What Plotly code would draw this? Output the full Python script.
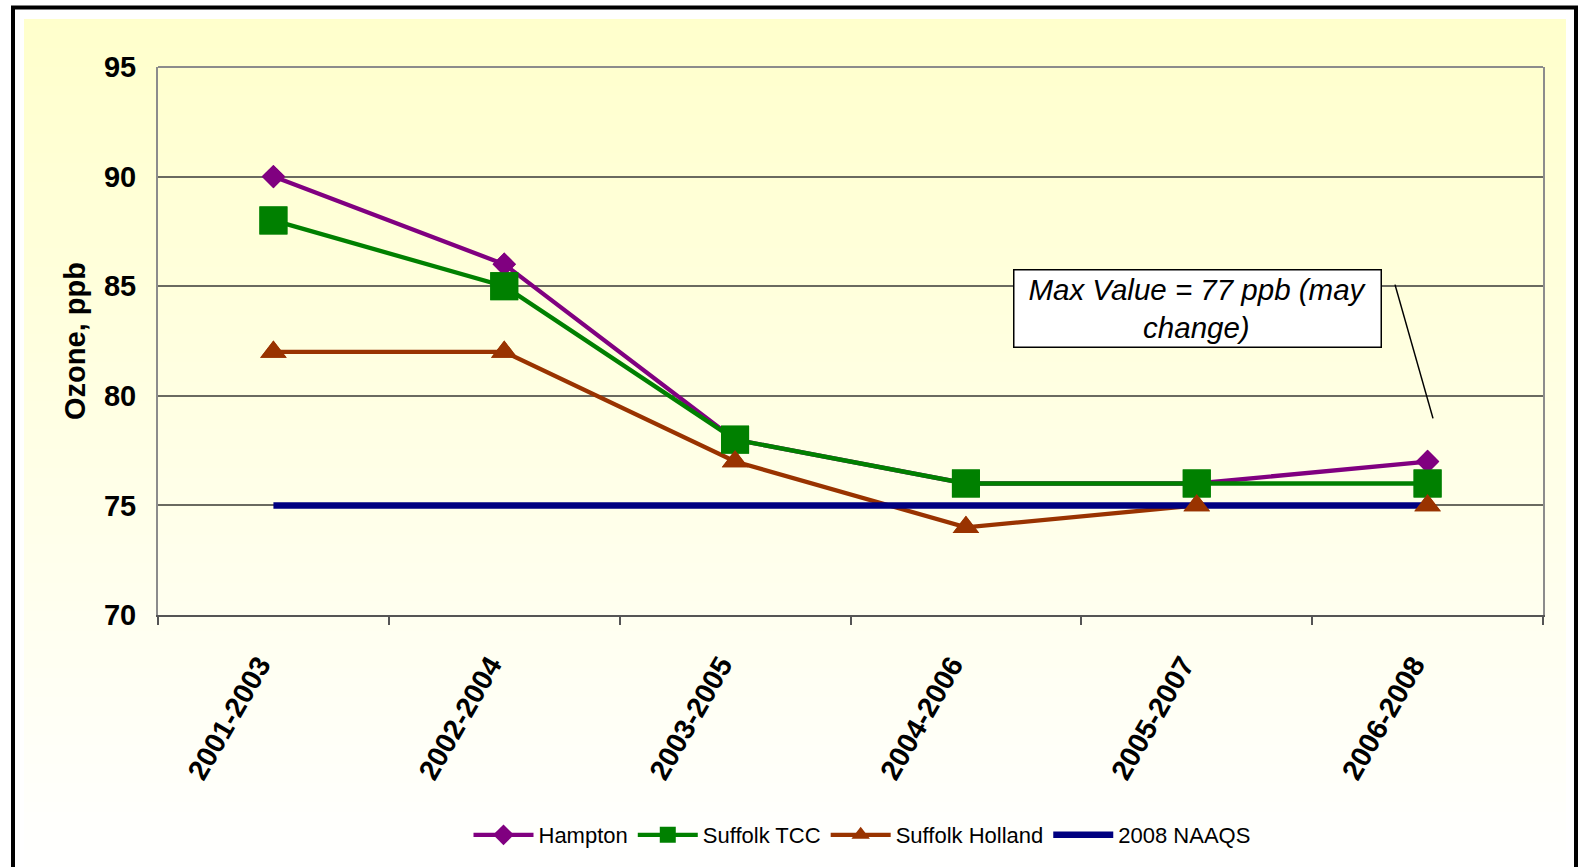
import plotly.graph_objects as go

# ---- data ----
periods = ["2001-2003", "2002-2004", "2003-2005", "2004-2006", "2005-2007", "2006-2008"]
hampton = [90, 86, 78, 76, 76, 77]
suffolk_tcc = [88, 85, 78, 76, 76, 76]
suffolk_holland = [82, 82, 77, 74, 75, 75]
naaqs = [75, 75, 75, 75, 75, 75]
y_ticks = [70, 75, 80, 85, 90, 95]

# ---- layout geometry (pixels) ----
W, H = 1578, 867
L, R, T, B = 158, 35, 67, 251
PW, PH = W - L - R, H - T - B


def px(x):
    return (x - L) / PW


def py(y):
    return (H - B - y) / PH


FONT = "Liberation Sans, Arial, sans-serif"
C_H, C_T, C_S, C_N = "#800080", "#008000", "#993300", "#000080"
LW = 4.3
SZ_D, SZ_S, SZ_T = 18, 28, 23

fig = go.Figure()
fig.add_trace(go.Scatter(x=periods, y=hampton, name="Hampton", mode="lines+markers",
                         line=dict(color=C_H, width=LW),
                         marker=dict(symbol="diamond", size=SZ_D, color=C_H)))
fig.add_trace(go.Scatter(x=periods, y=suffolk_tcc, name="Suffolk TCC", mode="lines+markers",
                         line=dict(color=C_T, width=LW),
                         marker=dict(symbol="square", size=SZ_S, color=C_T)))
fig.add_trace(go.Scatter(x=periods, y=suffolk_holland, name="Suffolk Holland", mode="lines+markers",
                         line=dict(color=C_S, width=LW),
                         marker=dict(symbol="triangle-up", size=SZ_T, color=C_S)))
fig.add_trace(go.Scatter(x=periods, y=naaqs, name="2008 NAAQS", mode="lines",
                         line=dict(color=C_N, width=6.5)))
# markers drawn over all lines (as in the original)
for ys, c, sym, sz in [(hampton, C_H, "diamond", SZ_D), (suffolk_tcc, C_T, "square", SZ_S),
                       (suffolk_holland, C_S, "triangle-up", SZ_T)]:
    fig.add_trace(go.Scatter(x=periods, y=ys, mode="markers", showlegend=False, hoverinfo="skip",
                             marker=dict(symbol=sym, size=sz, color=c)))

shapes = []
# background gradient (pale yellow -> white)
y_top, y_bot = 19, 880
n = 90
for i in range(n):
    t = i / (n - 1)
    b = round(204 + (255 - 204) * t)
    y0 = y_top + (y_bot - y_top) * i / n
    y1 = y_top + (y_bot - y_top) * (i + 1) / n + 1
    shapes.append(dict(type="rect", xref="paper", yref="paper", layer="below",
                       x0=px(24), x1=px(1566), y0=py(y1), y1=py(y0),
                       line=dict(width=0), fillcolor=f"rgb(255,255,{b})"))
# outer black frame
shapes.append(dict(type="rect", xref="paper", yref="paper", layer="above",
                   x0=px(13), x1=px(1576), y0=py(900), y1=py(7.5),
                   line=dict(color="black", width=4), fillcolor="rgba(0,0,0,0)"))
# top border of plot area
shapes.append(dict(type="line", xref="paper", yref="paper", layer="above",
                   x0=0, x1=1, y0=1, y1=1, line=dict(color="#8c8c8c", width=2)))
# annotation pointer line
shapes.append(dict(type="line", xref="paper", yref="paper", layer="above",
                   x0=px(1395), y0=py(285), x1=px(1433), y1=py(419),
                   line=dict(color="black", width=1.5)))

fig.update_layout(
    width=W, height=H,
    margin=dict(l=L, r=R, t=T, b=B, pad=0),
    paper_bgcolor="white",
    plot_bgcolor="rgba(0,0,0,0)",
    font=dict(family=FONT, color="black"),
    shapes=shapes,
    showlegend=True,
    legend=dict(orientation="h", x=px(862), xanchor="center", y=py(835), yanchor="middle",
                font=dict(family=FONT, size=22, color="black"),
                itemwidth=60, bgcolor="rgba(0,0,0,0)", traceorder="normal"),
    annotations=[dict(
        xref="paper", yref="paper", x=px(1197.5), y=py(309), xanchor="center", yanchor="middle",
        text="<i>Max Value = 77 ppb (may<br>change)</i>", showarrow=False,
        font=dict(family=FONT, size=29.5, color="black"),
        bgcolor="white", bordercolor="black", borderwidth=1.5, borderpad=2,
        width=362, height=72, align="center")],
    xaxis=dict(type="category", tickson="boundaries", ticks="outside", ticklen=8, tickwidth=1.5,
               tickcolor="#555", showline=True, linecolor="#555", linewidth=2, showgrid=False,
               tickangle=-60, ticklabelstandoff=20, ticklabelshift=-14,
               tickfont=dict(family=FONT, size=28.5, color="black", weight="bold"),
               range=[-0.5, 5.5], zeroline=False),
    yaxis=dict(range=[70, 95], tickvals=y_ticks, showgrid=True, gridcolor="#6a6a60", gridwidth=1.5,
               showline=True, linecolor="#8c8c8c", linewidth=2, mirror=True, ticks="",
               ticklabelstandoff=14,
               tickfont=dict(family=FONT, size=29, color="black", weight="bold"),
               title=dict(text="<b>Ozone, ppb</b>", standoff=10,
                          font=dict(family=FONT, size=29, color="black")),
               zeroline=False),
)

fig.write_html("out.html", config={"displayModeBar": False},
               post_script="document.body.style.margin='0';")
